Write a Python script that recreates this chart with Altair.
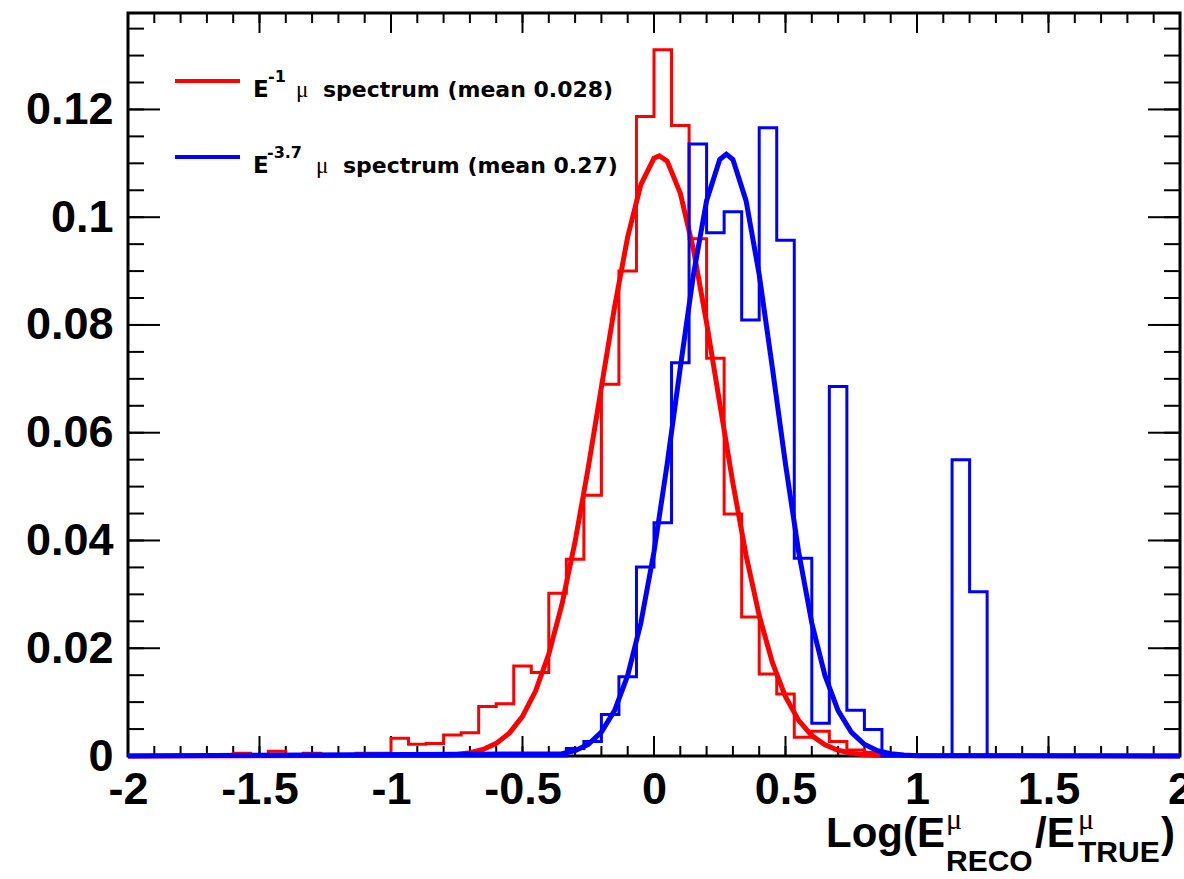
import altair as alt
import pandas as pd

# ---------------- data ----------------
x_min, x_max, n_bins = -2.0, 2.0, 60

red_hist = [0, 0, 0, 0, 0, 0, 0.0005, 0, 0.0009, 0,
            0.0005, 0, 0, 0.0005, 0.0005, 0.0033, 0.0022, 0.0023, 0.0039, 0.0043,
            0.0092, 0.0097, 0.0167, 0.0155, 0.0302, 0.0365, 0.0484, 0.0690, 0.0900, 0.1187,
            0.1311, 0.1170, 0.0960, 0.0738, 0.0449, 0.0258, 0.0152, 0.0115, 0.0035, 0.0046,
            0.0027, 0.0011, 0.0007, 0.0003, 0, 0, 0, 0.0003, 0, 0,
            0, 0, 0, 0, 0, 0, 0, 0, 0, 0]

blue_hist = [0, 0, 0, 0, 0, 0, 0, 0, 0, 0,
             0, 0, 0, 0, 0, 0, 0, 0, 0, 0,
             0, 0, 0, 0, 0, 0.0014, 0.0027, 0.0077, 0.0147, 0.0351,
             0.0433, 0.0730, 0.1136, 0.0971, 0.1010, 0.0809, 0.1166, 0.0957, 0.0367, 0.0061,
             0.0686, 0.0085, 0.0049, 0, 0, 0, 0, 0.0550, 0.0305, 0,
             0, 0, 0, 0, 0, 0, 0, 0, 0, 0]

red_fit_x = [-2.0, -0.80, -0.75, -0.70, -0.65, -0.60, -0.55, -0.50, -0.45, -0.40,
             -0.35, -0.30, -0.25, -0.20, -0.15, -0.10, -0.05, 0.00, 0.02, 0.05,
             0.10, 0.15, 0.20, 0.25, 0.30, 0.35, 0.40, 0.45, 0.50, 0.55,
             0.60, 0.65, 0.70, 0.75, 0.80, 0.85, 2.0]
red_fit_y = [0.0, 0.00013, 0.00029, 0.00061, 0.00122, 0.00234, 0.00425, 0.00735, 0.01209, 0.01891,
             0.02813, 0.03979, 0.05353, 0.06848, 0.08330, 0.09638, 0.10604, 0.11095, 0.1114, 0.11040,
             0.10446, 0.09399, 0.08042, 0.06545, 0.05064, 0.03727, 0.02608, 0.01736, 0.01099, 0.00661,
             0.00378, 0.00206, 0.00107, 0.00053, 0.00025, 0.00011, 0.0]

blue_fit_x = [-2.0, -0.35, -0.30, -0.25, -0.20, -0.15, -0.10, -0.05, 0.00, 0.05,
              0.10, 0.15, 0.20, 0.25, 0.275, 0.30, 0.35, 0.40, 0.45, 0.50,
              0.55, 0.60, 0.65, 0.70, 0.75, 0.80, 0.85, 0.90, 0.95, 1.00, 2.0]
blue_fit_y = [0.0, 0.00042, 0.00099, 0.00217, 0.00444, 0.00844, 0.01496, 0.02467, 0.03788, 0.05416,
              0.07209, 0.08934, 0.10307, 0.11071, 0.1117, 0.11071, 0.10307, 0.08934, 0.07209, 0.05416,
              0.03788, 0.02467, 0.01496, 0.00844, 0.00444, 0.00217, 0.00099, 0.00042, 0.00017, 0.00006, 0.0]

x_tick_labels = [-2, -1.5, -1, -0.5, 0, 0.5, 1, 1.5, 2]
y_tick_labels = [0, 0.02, 0.04, 0.06, 0.08, 0.1, 0.12]
x_minor = [round(-2 + 0.1 * i, 2) for i in range(41)]
y_minor = [round(0.005 * i, 4) for i in range(28)]

legend_labels = ["μ spectrum (mean 0.028)", "μ spectrum (mean 0.27)"]

# ---------------- layout ----------------
W, H = 1052, 743
PL, PT = 128, 13
Y_MAX = 0.1379

xs = alt.Scale(domain=[x_min, x_max], nice=False, zero=False)
ys = alt.Scale(domain=[0, Y_MAX], nice=False, zero=False)

bw = (x_max - x_min) / n_bins


def step_df(vals):
    xe = [x_min + k * bw for k in range(n_bins)] + [x_max]
    yv = list(vals) + [vals[-1]]
    return pd.DataFrame({"x": xe, "y": yv})


LAB_FONT = "Liberation Sans"

AX = alt.Axis(values=x_tick_labels, labelExpr="'' + datum.value", grid=False, domain=False,
              ticks=False, tickSize=0, title=None, labelFont=LAB_FONT, labelFontWeight="bold",
              labelFontSize=45, labelColor="black", labelPadding=11, labelFlush=False,
              labelOverlap=False, labelBound=False)
AY = alt.Axis(values=y_tick_labels, labelExpr="'' + datum.value", grid=False, domain=False,
              ticks=False, tickSize=0, title=None, labelFont=LAB_FONT, labelFontWeight="bold",
              labelFontSize=45, labelColor="black", labelPadding=15, labelFlush=False,
              labelOverlap=False, labelBound=False)

# ---- tick marks (ROOT style, inside the frame on all four sides) ----
dmx = pd.DataFrame({"v": x_tick_labels})
dnx = pd.DataFrame({"v": x_minor})
dmy = pd.DataFrame({"v": y_tick_labels})
dny = pd.DataFrame({"v": y_minor})


def xt(df, y1, y2):
    return alt.Chart(df).mark_rule(color="black", strokeWidth=2).encode(
        x=alt.X("v:Q", scale=xs, axis=AX), y=alt.value(y1), y2=alt.value(y2))


def yt(df, x1, x2):
    return alt.Chart(df).mark_rule(color="black", strokeWidth=2).encode(
        y=alt.Y("v:Q", scale=ys, axis=AY), x=alt.value(x1), x2=alt.value(x2))


ticks = [xt(dmx, H, H - 20), xt(dnx, H, H - 10), xt(dmx, 0, 20), xt(dnx, 0, 10),
         yt(dmy, 0, 32), yt(dny, 0, 16), yt(dmy, W, W - 32), yt(dny, W, W - 16)]


def curve(df, color, width, interp="linear"):
    return alt.Chart(df).mark_line(color=color, strokeWidth=width, interpolate=interp).encode(
        x=alt.X("x:Q", scale=xs, axis=AX), y=alt.Y("y:Q", scale=ys, axis=AY))


red_h = curve(step_df(red_hist), "#ff0000", 3, "step-after")
blue_h = curve(step_df(blue_hist), "#0000ff", 3, "step-after")
red_f = curve(pd.DataFrame({"x": red_fit_x, "y": red_fit_y}), "#ff0000", 5)
blue_f = curve(pd.DataFrame({"x": blue_fit_x, "y": blue_fit_y}), "#0000ff", 5)

one = alt.Data(values=[{"a": 1}])


def txt(s, ax, ay, size, font, weight="bold"):
    return alt.Chart(one).mark_text(text=s, align="left", baseline="alphabetic", fontSize=size,
                                    font=font, fontWeight=weight, color="black").encode(
        x=alt.value(ax - PL), y=alt.value(ay - PT))


def hline(x1, x2, y, color):
    return alt.Chart(one).mark_rule(color=color, strokeWidth=4).encode(
        x=alt.value(x1 - PL), x2=alt.value(x2 - PL), y=alt.value(y - PT))


LEG = "DejaVu Sans"
SYM = "Liberation Serif"
legend = [
    hline(175, 240, 81, "#ff0000"),
    hline(175, 240, 157, "#0000ff"),
    txt("E", 253, 97, 23, LEG), txt("-1", 268, 82, 16, LEG),
    txt(legend_labels[0][0], 296, 97, 23, SYM, "normal"), txt(legend_labels[0][2:], 323, 97, 22, LEG),
    txt("E", 253, 173, 23, LEG), txt("-3.7", 267, 158, 16, LEG),
    txt(legend_labels[1][0], 316, 173, 23, SYM, "normal"), txt(legend_labels[1][2:], 343, 173, 22, LEG),
]

TF = "Liberation Sans"
title = [
    txt("Log(E", 826, 847, 42, TF),
    txt("μ", 946, 829, 30, SYM, "normal"),
    txt("RECO", 946, 871, 30, TF),
    txt("/E", 1035, 847, 42, TF),
    txt("μ", 1078, 829, 30, SYM, "normal"),
    txt("TRUE", 1078, 862, 30, TF),
    txt(")", 1161, 847, 42, TF),
]

chart = alt.layer(*ticks, red_h, red_f, blue_h, blue_f, *legend, *title).properties(
    width=W, height=H,
    padding={"left": PL, "top": PT, "right": 1184 - PL - W, "bottom": 879 - PT - H},
    autosize=alt.AutoSizeParams(type="none"),
    background="white",
).configure_view(stroke="black", strokeWidth=3)

chart.save("out.html", embed_options={"renderer": "svg", "actions": False})
